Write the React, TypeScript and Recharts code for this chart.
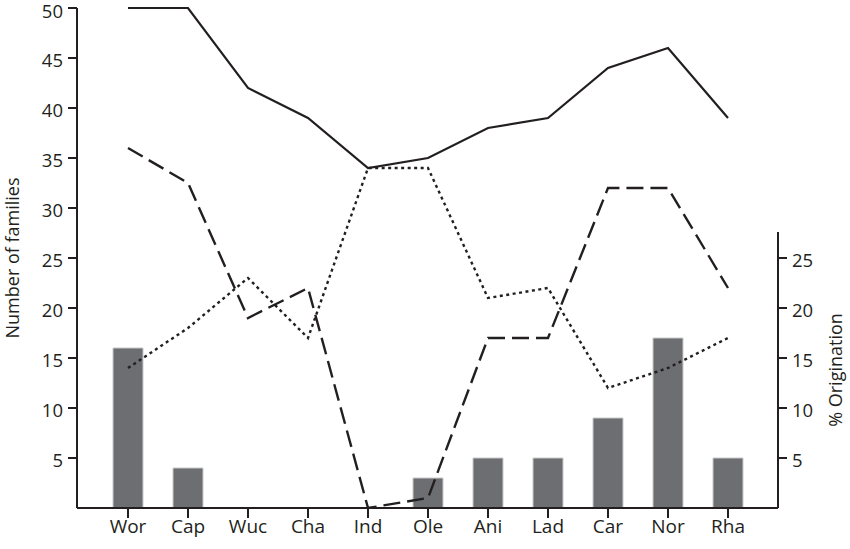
import React from "react"
import {
  ComposedChart,
  Bar,
  Line,
  XAxis,
  YAxis,
  Label,
} from "recharts"

const stages = ["Wor", "Cap", "Wuc", "Cha", "Ind", "Ole", "Ani", "Lad", "Car", "Nor", "Rha"]
const totalFamilies = [50, 50, 42, 39, 34, 35, 38, 39, 44, 46, 39]
const dashedSeries = [36, 32.5, 19, 22, 0, 1, 17, 17, 32, 32, 22]
const dottedSeries = [14, 18, 23, 17, 34, 34, 21, 22, 12, 14, 17]
const originationPct = [16, 4, 0, 0, 0, 3, 5, 5, 9, 17, 5]

const leftTicks = [5, 10, 15, 20, 25, 30, 35, 40, 45, 50]
const rightTicks = [5, 10, 15, 20, 25]

const ink = "#231f20"
const font = "'Open Sans', sans-serif"

const data = stages.map((s, i) => ({
  stage: s,
  total: totalFamilies[i],
  dashed: dashedSeries[i],
  dotted: dottedSeries[i],
  orig: originationPct[i],
}))

const xTickStyle = { fontSize: 19, fill: ink, fontFamily: font }

// y tick text, nudged a pixel down like the original
function YTick(props: any) {
  const { x, y, payload, textAnchor } = props
  return (
    <text
      x={x}
      y={y + 1}
      textAnchor={textAnchor}
      dominantBaseline="central"
      fontSize={18.5}
      fontFamily={font}
      fill={ink}
    >
      {payload.value}
    </text>
  )
}

function LeftLabel(props: any) {
  const { x, y, height } = props.viewBox
  const cx = x + 12
  const cy = y + height / 2
  return (
    <text
      x={cx}
      y={cy}
      transform={`rotate(-90, ${cx}, ${cy})`}
      textAnchor="middle"
      dominantBaseline="central"
      fontSize={18}
      fontFamily={font}
      fill={ink}
    >
      Number of families
    </text>
  )
}

function RightLabel(props: any) {
  const { x, y, height } = props.viewBox
  const cx = x + 57
  // centred on the visible part of the right axis (0 to ~27.6)
  const cy = y + height * (1 - 13.8 / 50)
  return (
    <text
      x={cx}
      y={cy}
      transform={`rotate(-90, ${cx}, ${cy})`}
      textAnchor="middle"
      dominantBaseline="central"
      fontSize={18}
      fontFamily={font}
      fill={ink}
    >
      % Origination
    </text>
  )
}

export default function App() {
  return (
    <div style={{ width: 850, height: 549, background: "#fff" }}>
      <style>{`body{margin:0}`}</style>
      <ComposedChart
        width={850}
        height={549}
        data={data}
        margin={{ top: 8, right: 0, bottom: 0, left: 0 }}
      >
        <XAxis
          dataKey="stage"
          height={41}
          padding={{ left: 21, right: 20 }}
          axisLine={{ stroke: ink, strokeWidth: 2 }}
          tickLine={{ stroke: ink, strokeWidth: 2 }}
          tickSize={10}
          tick={xTickStyle}
          interval={0}
        />
        <YAxis
          yAxisId="left"
          orientation="left"
          width={77}
          domain={[0, 50]}
          ticks={leftTicks}
          axisLine={{ stroke: ink, strokeWidth: 2 }}
          tickLine={{ stroke: ink, strokeWidth: 2 }}
          tickSize={9}
          tickMargin={5}
          tick={<YTick />}
        >
          <Label content={LeftLabel} />
        </YAxis>
        <YAxis
          yAxisId="right"
          orientation="right"
          width={72}
          domain={[0, 50]}
          ticks={rightTicks}
          axisLine={{ stroke: ink, strokeWidth: 2, strokeDasharray: "0 224 276" }}
          tickLine={{ stroke: ink, strokeWidth: 2 }}
          tickSize={9}
          tickMargin={5}
          tick={<YTick />}
        >
          <Label content={RightLabel} />
        </YAxis>
        <Bar
          yAxisId="right"
          dataKey="orig"
          barSize={30}
          fill="#6d6e71"
          stroke="#c9c9ca"
          strokeWidth={1}
          isAnimationActive={false}
        />
        <Line
          yAxisId="left"
          type="linear"
          dataKey="total"
          stroke={ink}
          strokeWidth={2.2}
          dot={false}
          activeDot={false}
          isAnimationActive={false}
        />
        <Line
          yAxisId="left"
          type="linear"
          dataKey="dashed"
          stroke={ink}
          strokeWidth={2.4}
          strokeDasharray="17 7"
          dot={false}
          activeDot={false}
          isAnimationActive={false}
        />
        <Line
          yAxisId="left"
          type="linear"
          dataKey="dotted"
          stroke={ink}
          strokeWidth={2.4}
          strokeDasharray="3 3.5"
          dot={false}
          activeDot={false}
          isAnimationActive={false}
        />
      </ComposedChart>
    </div>
  )
}
